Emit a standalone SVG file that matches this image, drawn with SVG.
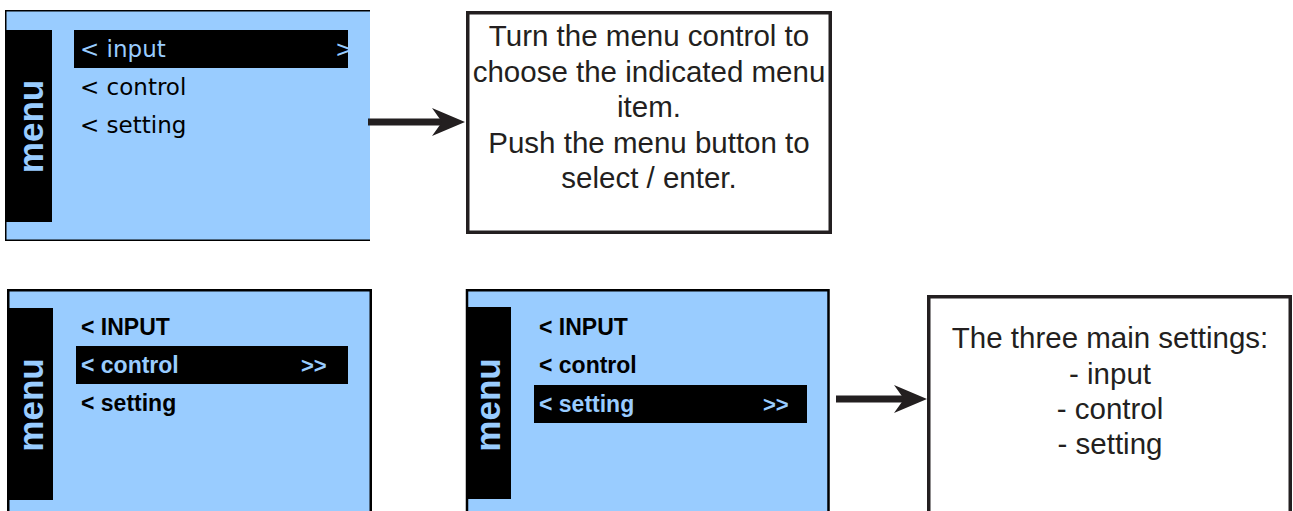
<svg xmlns="http://www.w3.org/2000/svg" width="1293" height="511" viewBox="0 0 1293 511">
<style>
.screen{fill:#99CCFF}
.bar{fill:#000}
.menu{font-family:"Liberation Sans",Arial,sans-serif;font-weight:bold;font-size:35px;fill:#99CCFF;text-anchor:middle}
.thin{font-family:"DejaVu Sans",sans-serif;font-size:23px}
.bold{font-family:"Liberation Sans",Arial,sans-serif;font-weight:bold;font-size:23px}
.chev{font-family:"Liberation Sans",Arial,sans-serif;font-weight:bold;font-size:22px}
.dark{fill:#000}
.light{fill:#99CCFF}
.box{fill:#fff;stroke:#231f20;stroke-width:3.5}
.note{font-family:"Liberation Sans",Arial,sans-serif;font-size:29.5px;fill:#231f20;text-anchor:middle}
.conn{stroke:#231f20;stroke-width:7;fill:none}
</style>
<defs>
<marker id="ah" markerUnits="userSpaceOnUse" markerWidth="34" markerHeight="28" viewBox="0 0 34 28" refX="12" refY="14" orient="auto">
<path d="M33,14 L0,0 L10,14 L0,28 Z" fill="#231f20"/>
</marker>
</defs>
<rect width="1293" height="511" fill="#fff"/>

<g id="screen1">
<rect class="screen" x="5" y="10" width="365" height="231"/>
<path d="M370,10.75 H5.75 V240.25 H370" fill="none" stroke="#000" stroke-width="1.5"/>
<rect class="bar" x="5" y="30" width="47" height="192"/>
<text class="menu" transform="translate(43,126.5) rotate(-90)">menu</text>
<rect class="bar" x="74" y="30" width="274" height="38"/>
<text class="thin light" x="80" y="57">&lt; input</text>
<text class="thin light" x="335" y="57">&gt;</text>
<text class="thin dark" x="80" y="95">&lt; control</text>
<text class="thin dark" x="80" y="133">&lt; setting</text>
</g>

<g id="note1">
<rect class="box" x="467.75" y="12.75" width="362.5" height="219.5"/>
<text class="note" x="649" y="46">Turn the menu control to</text>
<text class="note" x="649" y="82">choose the indicated menu</text>
<text class="note" x="649" y="117">item.</text>
<text class="note" x="649" y="153">Push the menu button to</text>
<text class="note" x="649" y="188">select / enter.</text>
</g>

<g id="screen2">
<rect class="screen" x="8.25" y="290.25" width="362.5" height="230" stroke="#000" stroke-width="2.5"/>
<rect class="bar" x="7" y="308" width="46" height="192"/>
<text class="menu" transform="translate(43,405) rotate(-90)">menu</text>
<text class="bold dark" x="81" y="335">&lt; INPUT</text>
<rect class="bar" x="76" y="346" width="272" height="38"/>
<text class="bold light" x="81" y="373">&lt; control</text>
<text class="chev light" x="301" y="373">&gt;&gt;</text>
<text class="bold dark" x="81" y="411">&lt; setting</text>
</g>

<g id="screen3">
<rect class="screen" x="467" y="290.25" width="361.5" height="230" stroke="#000" stroke-width="2.5"/>
<rect class="bar" x="466" y="307" width="45" height="192"/>
<text class="menu" transform="translate(500,405) rotate(-90)">menu</text>
<text class="bold dark" x="539" y="335">&lt; INPUT</text>
<text class="bold dark" x="539" y="373">&lt; control</text>
<rect class="bar" x="534" y="385" width="273" height="38"/>
<text class="bold light" x="539" y="412">&lt; setting</text>
<text class="chev light" x="763" y="412">&gt;&gt;</text>
</g>

<g id="note2">
<rect class="box" x="928.75" y="296.75" width="361.5" height="230"/>
<text class="note" x="1110" y="348">The three main settings:</text>
<text class="note" x="1110" y="384">- input</text>
<text class="note" x="1110" y="419">- control</text>
<text class="note" x="1110" y="454">- setting</text>
</g>

<g id="connectors">
<line class="conn" x1="368" y1="122" x2="444" y2="122" marker-end="url(#ah)"/>
<line class="conn" x1="836" y1="399" x2="906" y2="399" marker-end="url(#ah)"/>
</g>
</svg>
